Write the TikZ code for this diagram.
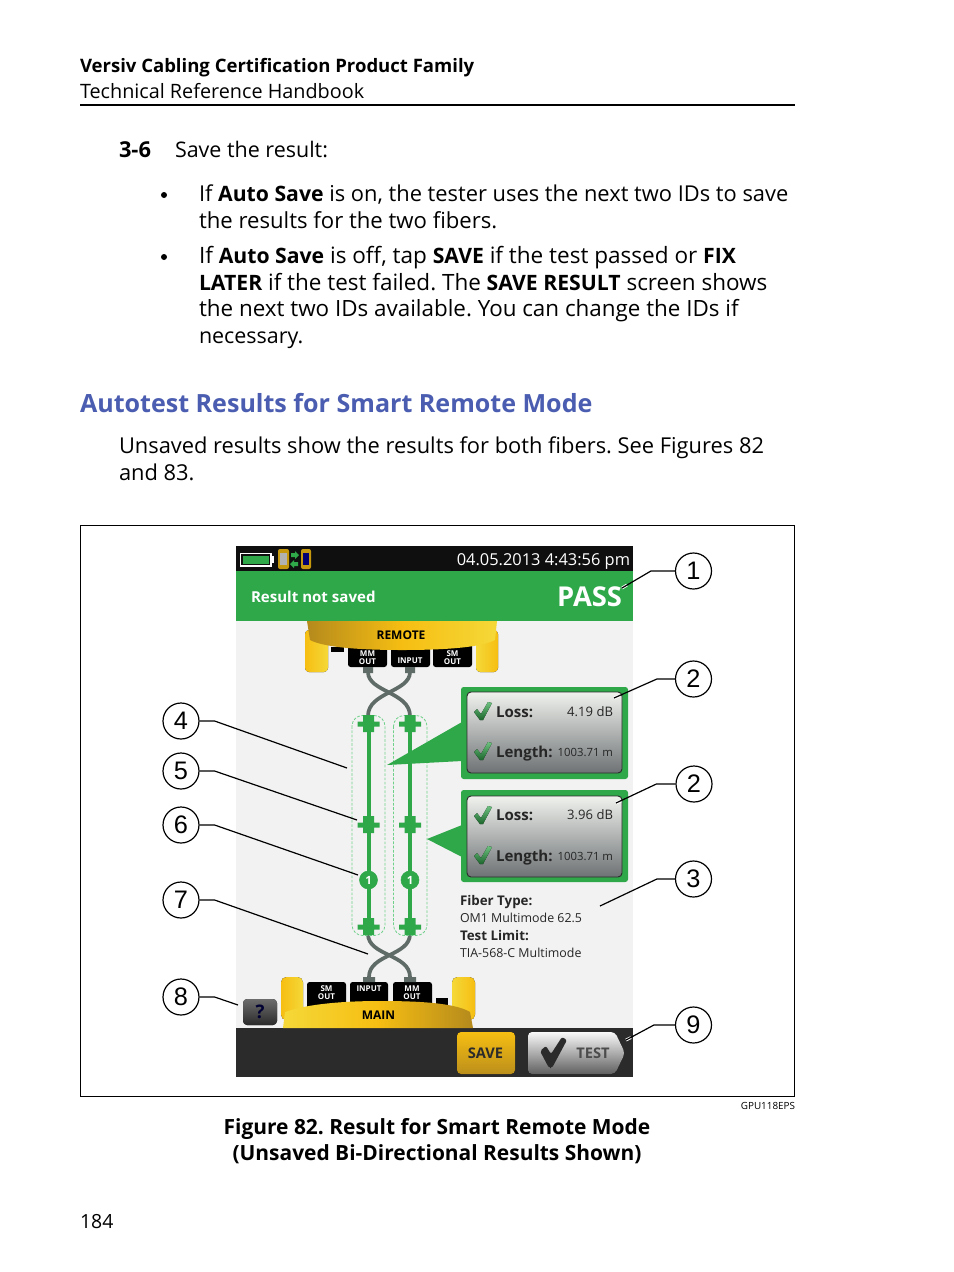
\documentclass[tikz,border=0pt]{standalone}
\usepackage{fontspec}
\setmainfont{Open Sans}
\newfontfamily\numfont{Liberation Sans}
\frenchspacing
\definecolor{scrgreen}{HTML}{2FA84A}
\definecolor{headblue}{HTML}{4A5DB0}
\definecolor{scrbg}{HTML}{F2F2F2}
\definecolor{cable}{HTML}{5F6B66}
\definecolor{barblack}{HTML}{0F0F0F}
\definecolor{bardark}{HTML}{2B2B2B}
\definecolor{ydark}{HTML}{B58A1C}
\definecolor{ymid}{HTML}{F6BE12}
\definecolor{ylight}{HTML}{F5D838}
\definecolor{dotgreen}{HTML}{6FD08A}
\definecolor{paneltop}{HTML}{F0F2EE}
\definecolor{panelbot}{HTML}{6E7274}
\newcommand{\fs}[1]{\fontsize{#1}{#1}\selectfont}
\newcommand{\bb}[1]{{\bfseries\fs{15.9}#1}}
\tikzset{
  x=0.75pt,y=-0.75pt,
  txt/.style={inner sep=0pt,outer sep=0pt,anchor=base west,text=black},
  body/.style={txt,font=\fs{16.4}},
  rtxt/.style={txt,anchor=base east},
  callout/.style={circle,draw=black,line width=0.9pt,minimum size=27pt,inner sep=0pt,font=\numfont\fs{19}},
  leader/.style={draw=black,line width=0.9pt},
  port/.style={fill=black,rounded corners=2pt,draw=none},
  porttxt/.style={inner sep=0pt,outer sep=0pt,text=white,font=\bfseries\fs{6},align=center},
  cablepath/.style={draw=cable,line width=2.8pt},
  fiber/.style={draw=scrgreen,line width=3pt},
  dots/.style={draw=dotgreen,dash pattern=on 2pt off 1.2pt,line width=0.6pt,rounded corners=8pt},
  greenfill/.style={fill=scrgreen,draw=none},
  panel/.style={draw=bardark,line width=0.7pt,rounded corners=3pt,top color=paneltop,bottom color=panelbot},
  plabel/.style={txt,font=\bfseries\fs{11.3},text=black!85},
  pval/.style={rtxt,font=\fs{9.8},text=black!85},
  psmall/.style={rtxt,font=\fs{8.5},text=black!85},
  fibtxt/.style={txt,font=\fs{9.3},text=black!85},
  fibbold/.style={txt,font=\bfseries\fs{10},text=black!85},
}
\newcommand{\chk}[2]{\fill[top color=scrgreen!70!white,bottom color=scrgreen!60!black,shift={(#1,#2)}] (-9,1) -- (-6,-2) -- (-2,3) -- (5,-9) -- (9,-8) -- (0,9) -- (-3,9) -- cycle;}
\newcommand{\conn}[2]{\fill[scrgreen,shift={(#1,#2)}] (-5.5,-9) rectangle (5.5,8) (-11,-2.5) rectangle (11,2.5);}
\begin{document}
\begin{tikzpicture}
\useasboundingbox (0,0) rectangle (954,1272);
\fill[white] (0,0) rectangle (954,1272);
% header
\node[txt,font=\bfseries\fs{13.9}] (h1) at (80,72) {Versiv Cabling Certification Product Family};
\node[txt,font=\fs{14.85}] (h2) at (80,98) {Technical Reference Handbook};
\draw[line width=1.5pt] (80,105) -- (795,105);
% body
\node[txt,font=\bfseries\fs{16.4}] (step) at (119,157) {3-6};
\node[body,font=\fs{16.1}] (s0) at (175,157) {Save the result:};
\fill (164,195) circle (3);
\node[body] (b1) at (199,201) {If \bb{Auto Save} is on, the tester uses the next two IDs to save};
\node[body,font=\fs{16.6}] (b2) at (199,228) {the results for the two fibers.};
\fill (164,257) circle (3);
\node[body,font=\fs{16.9}] (b3) at (199,263) {If \bb{Auto Save} is off, tap \bb{SAVE} if the test passed or \bb{FIX}};
\node[body,font=\fs{16.85}] (b4) at (199,290) {\bb{LATER} if the test failed. The \bb{SAVE RESULT} screen shows};
\node[body,font=\fs{16.8}] (b5) at (199,316) {the next two IDs available. You can change the IDs if};
\node[body,font=\fs{16.1}] (b6) at (199,343) {necessary.};
\node[txt,font=\bfseries\fs{18.8},text=headblue] (sec) at (80,412) {Autotest Results for Smart Remote Mode};
\node[body] (u1) at (119,453) {Unsaved results show the results for both fibers. See Figures 82};
\node[body] (u2) at (119,480) {and 83.};
% frame
\draw[line width=0.6pt] (80.5,525.5) rectangle (794.5,1096.5);
% screen
\fill[scrbg] (236,546) rectangle (633,1077);
\fill[barblack] (236,546) rectangle (633,571);
\fill[scrgreen] (236,571) rectangle (633,621);
\fill[bardark] (236,1028) rectangle (633,1077);
% status icons
\draw[white,line width=1pt] (240.5,553.5) rectangle (271,566);
\fill[white] (271,556) rectangle (273.5,563);
\fill[scrgreen] (242.5,555.5) rectangle (269,564);
\fill[ymid!80!black,rounded corners=1.5pt] (278,549) rectangle (289,569);
\fill[gray!60] (280,553) rectangle (287,565);
\fill[ymid!80!black,rounded corners=1.5pt] (301,549) rectangle (311,569);
\fill[blue!45!black] (303,553) rectangle (309,565);
\fill[scrgreen] (291,553) -- (295,553) -- (295,551) -- (299,555) -- (295,559) -- (295,557) -- (291,557) -- cycle;
\fill[scrgreen] (298,562) -- (294,562) -- (294,560) -- (290,564) -- (294,568) -- (294,566) -- (298,566) -- cycle;
\node[rtxt,text=white,font=\fs{12.3}] (date) at (630,565) {04.05.2013 4:43:56 pm};
\node[txt,text=white,font=\bfseries\fs{11.3}] (notsaved) at (251,602) {Result not saved};
\node[rtxt,text=white,font=\bfseries\fs{20.5}] (pass) at (622,606) {PASS};
% remote unit
\fill[left color=ymid,right color=ylight,rounded corners=3pt] (305,630) -- (328,630) -- (328,672) -- (305,672) -- cycle;
\fill[left color=ylight,right color=ymid,rounded corners=3pt] (476,630) -- (498,630) -- (498,672) -- (476,672) -- cycle;
\fill[black] (331,647) rectangle (344,652);
\fill[port] (348,640) rectangle (387,667);
\fill[port] (391,640) rectangle (430,667);
\fill[port] (433,640) rectangle (472,667);
\shade[left color=ydark,right color=ylight,middle color=ymid] (307,621) -- (497,621) -- (495,640) .. controls (480,648) and (440,650) .. (402,650) .. controls (365,650) and (325,648) .. (310,640) -- cycle;
\node[font=\bfseries\fs{9},inner sep=0pt] (remote) at (401,635) {REMOTE};
\node[porttxt] (p1) at (367.5,658) {MM\\OUT};
\node[porttxt] (p2) at (410,661) {INPUT};
\node[porttxt] (p3) at (452.5,658) {SM\\OUT};
\fill[cable] (363,667) rectangle (373,673) (405,667) rectangle (415,673);
% cables
\draw[cablepath] (368,672) .. controls (368,692) and (410,692) .. (410,716);
\draw[cablepath] (410,672) .. controls (410,692) and (368,692) .. (368,716);
\draw[cablepath] (368,934) .. controls (368,956) and (410,954) .. (410,977);
\draw[cablepath] (410,934) .. controls (410,956) and (369,954) .. (369,977);
% dotted outlines
\draw[dots] (352,715.5) rectangle (385,935.5);
\draw[dots] (393.5,715.5) rectangle (427,935.5);
% fibers
\draw[fiber] (368.5,722) -- (368.5,927);
\draw[fiber] (410,722) -- (410,927);
\conn{368.5}{724}\conn{410}{724}
\conn{368.5}{825}\conn{410}{825}
\conn{368.5}{927}\conn{410}{927}
\node[circle,fill=scrgreen,draw=scrgreen,minimum size=13.5pt,inner sep=0pt,text=white,font=\bfseries\fs{8.5}] (o1) at (368.5,880) {1};
\node[circle,fill=scrgreen,draw=scrgreen,minimum size=13.5pt,inner sep=0pt,text=white,font=\bfseries\fs{8.5}] (o2) at (410,880) {1};
% result boxes
\fill[greenfill] (462,722) -- (462,761) -- (387,765) -- cycle;
\fill[greenfill] (462,825) -- (462,857) -- (427,839) -- cycle;
\fill[greenfill,rounded corners=2pt] (461,687) rectangle (628,779);
\fill[greenfill,rounded corners=2pt] (461,790) rectangle (628,882);
\path[panel] (467,692) rectangle (622,773);
\path[panel] (467,796) rectangle (622,877);
\chk{483}{711}\chk{483}{751}\chk{483}{815}\chk{483}{855}
\node[plabel] (l1) at (496,717) {Loss:};
\node[plabel] (l2) at (496,757) {Length:};
\node[plabel] (l3) at (496,820) {Loss:};
\node[plabel] (l4) at (496,861) {Length:};
\node[pval] (v1) at (613,716) {4.19 dB};
\node[psmall] (v2) at (613,756) {1003.71 m};
\node[pval] (v3) at (613,819) {3.96 dB};
\node[psmall] (v4) at (613,860) {1003.71 m};
% fiber info
\node[fibbold] (f1) at (460,905) {Fiber Type:};
\node[fibtxt] (f2) at (460,922) {OM1 Multimode 62.5};
\node[fibbold] (f3) at (460,940) {Test Limit:};
\node[fibtxt] (f4) at (460,957) {TIA-568-C Multimode};
% main unit
\fill[left color=ymid,right color=ylight,rounded corners=4pt] (281,977) -- (303,977) -- (303,1020) -- (281,1020) -- cycle;
\fill[left color=ylight,right color=ymid,rounded corners=4pt] (452,977) -- (475,977) -- (475,1020) -- (452,1020) -- cycle;
\fill[black] (436,998) rectangle (448,1006);
\fill[port] (307,982) rectangle (346,1010);
\fill[port] (350,982) rectangle (388,1010);
\fill[port] (393,982) rectangle (432,1010);
\fill[cable] (363,977) rectangle (375,982) (404,977) rectangle (416,982);
\shade[left color=ylight,right color=ydark,middle color=ymid] (283,1028) -- (285,1012) .. controls (310,1003) and (350,1001) .. (380,1001) .. controls (420,1001) and (455,1003) .. (470,1012) -- (473,1028) -- cycle;
\node[font=\bfseries\fs{9},inner sep=0pt] (main) at (378.5,1015) {MAIN};
\node[porttxt] (p4) at (326.5,992.5) {SM\\OUT};
\node[porttxt] (p5) at (369,988.5) {INPUT};
\node[porttxt] (p6) at (412,992.5) {MM\\OUT};
% help button
\fill[rounded corners=3pt,top color=gray!85!black,bottom color=bardark] (243,999) rectangle (277,1025);
\node[font=\bfseries\fs{14},text=black!80!blue,inner sep=0pt] (help) at (260,1012) {?};
% bottom buttons
\fill[rounded corners=3pt,top color=ymid,bottom color=ydark!90!ymid] (457,1032) rectangle (515,1074);
\node[font=\bfseries\fs{11},text=bardark,inner sep=0pt] (save) at (485.5,1053) {SAVE};
\fill[rounded corners=3pt,top color=white!95!gray,bottom color=gray!75!black] (528,1032) -- (615,1032) -- (625,1053) -- (615,1074) -- (528,1074) -- cycle;
\fill[bardark,rounded corners=1.5pt] (540,1051) -- (546,1046) -- (551,1054) -- (562,1037) -- (567,1040) -- (552,1068) -- (549,1068) -- cycle;
\node[font=\bfseries\fs{11},text=black!70,inner sep=0pt] (test) at (593,1053) {TEST};
% callouts
\node[callout] (c1) at (693.5,571) {1};
\node[callout] (c2) at (693.5,679) {2};
\node[callout] (c2b) at (694,784) {2};
\node[callout] (c3) at (693.5,879) {3};
\node[callout] (c9) at (693.5,1025) {9};
\node[callout] (c4) at (181,721) {4};
\node[callout] (c5) at (181,771) {5};
\node[callout] (c6) at (181,825) {6};
\node[callout] (c7) at (181,900) {7};
\node[callout] (c8) at (181,997) {8};
\coordinate (e1) at (622,588);
\coordinate (e2) at (614,698);
\coordinate (e2b) at (616,803);
\coordinate (e3) at (600,906);
\coordinate (e9) at (626,1040);
\coordinate (e4) at (347,768);
\coordinate (e5) at (357,820);
\coordinate (e6) at (358,875);
\coordinate (e7) at (368,954);
\coordinate (e8) at (238,1005);
\draw[white,line width=2.2pt] (e1) -- ++(5,-3) (e2) -- ++(5,-2) (e2b) -- ++(5,-2) (e9) -- ++(5,-2.5);
\draw[leader] (c1.west) -- ++(-24,0) -- (e1);
\draw[leader] (c2.west) -- ++(-18,0) -- (e2);
\draw[leader] (c2b.west) -- ++(-19,0) -- (e2b);
\draw[leader] (c3.west) -- ++(-18,0) -- (e3);
\draw[leader] (c9.west) -- ++(-21,0) -- (e9);
\draw[leader] (c4.east) -- ++(15,0) -- (e4);
\draw[leader] (c5.east) -- ++(15,0) -- (e5);
\draw[leader] (c6.east) -- ++(15,0) -- (e6);
\draw[leader] (c7.east) -- ++(15,0) -- (e7);
\draw[leader] (c8.east) -- ++(15,0) -- (e8);
% caption
\node[rtxt,font=\fs{7.4}] (gpu) at (795,1109) {GPU118EPS};
\node[txt,anchor=base,font=\bfseries\fs{15.7}] (cap1) at (437,1134) {Figure 82. Result for Smart Remote Mode};
\node[txt,anchor=base,font=\bfseries\fs{15.7}] (cap2) at (437,1160) {(Unsaved Bi-Directional Results Shown)};
\node[txt,font=\fs{14.6}] (pg) at (80,1228) {184};
\end{tikzpicture}
\end{document}
